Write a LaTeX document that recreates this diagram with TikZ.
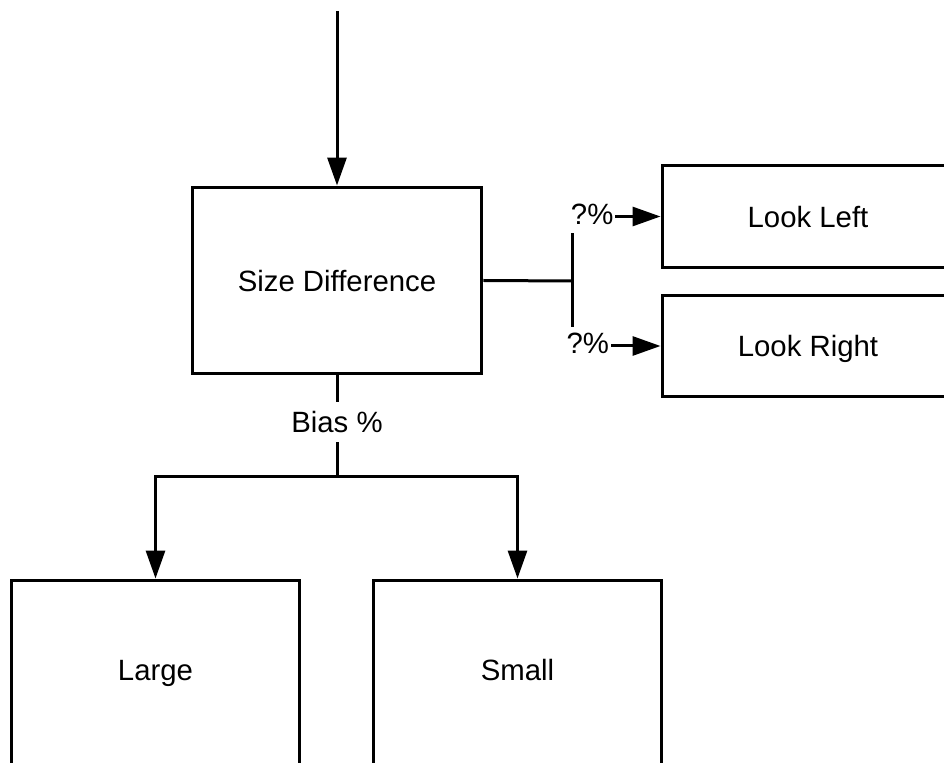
\documentclass[tikz,border=0pt]{standalone}
\usepackage{fontspec}
\setmainfont{Liberation Sans}
\usetikzlibrary{arrows.meta}
\begin{document}
\begin{tikzpicture}[x=0.02cm,y=-0.02cm,
  every node/.style={font=\fontsize{16.7}{20}\selectfont},
  box/.style={draw,line width=0.06cm,inner sep=0pt,
    text height=12pt,text depth=0pt},
  tallbox/.style={box,text depth=3.4pt},
  conn/.style={line width=0.06cm},
  arr/.style={conn,-{Triangle[length=0.56cm,width=0.38cm]}},
  lbl/.style={fill=white,inner xsep=1pt,inner ysep=5pt,
    text height=12pt,text depth=0pt}]
  \useasboundingbox (0,0) rectangle (944,763);
  \clip (0,0) rectangle (944,763);

  % boxes
  \node[box,minimum width=5.8cm,minimum height=3.74cm] (sd) at (337,280.5) {Size Difference};
  \node[box,minimum width=5.84cm,minimum height=2.06cm] (ll) at (808,216.5) {Look Left};
  \node[box,minimum width=5.84cm,minimum height=2.04cm] (lr) at (808,346) {Look Right};
  \node[tallbox,minimum width=5.78cm,minimum height=3.72cm] (large) at (155.5,673) {Large};
  \node[tallbox,minimum width=5.78cm,minimum height=3.72cm] (small) at (517.5,673) {Small};

  % junction points
  \coordinate (in) at (337,11);
  \coordinate (fork) at (572,281);
  \coordinate (split) at (337,477);

  % incoming arrow
  \draw[arr] (in) -- (sd.north);

  % left / right branch
  \draw[conn] (sd.east) -- (fork);
  \draw[arr] (fork) |- (ll.west) node[lbl,pos=0.614,yshift=0.06cm] {?\%};
  \draw[arr] (fork) |- (lr.west) node[lbl,pos=0.589,yshift=0.06cm,inner ysep=3pt] {?\%};

  % size branch
  \draw[conn] (sd.south) -- (split) node[lbl,midway,yshift=0.08cm,inner ysep=5.5pt] {Bias \%};
  \draw[arr] (split) -| (large.north);
  \draw[arr] (split) -| (small.north);
\end{tikzpicture}
\end{document}
